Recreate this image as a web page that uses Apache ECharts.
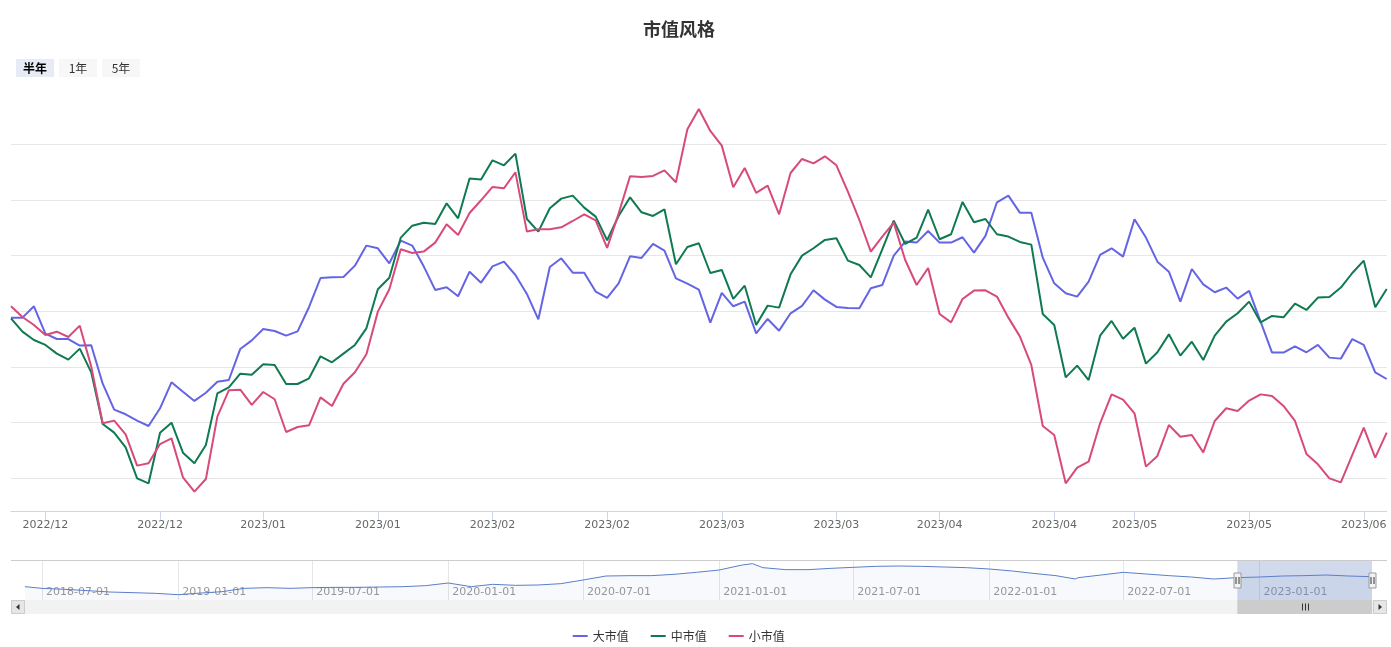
<!DOCTYPE html>
<html><head><meta charset="utf-8">
<script src="https://cdn.jsdelivr.net/npm/echarts@6/dist/echarts.min.js"></script>
<style>html,body{margin:0;padding:0;background:#fff}#c{width:1391px;height:647px}</style>
</head><body><div id="c"></div>
<script>
// ---------- data ----------
const dates = [
'2022-12-02','2022-12-05','2022-12-06','2022-12-07','2022-12-08','2022-12-09','2022-12-12','2022-12-13','2022-12-14','2022-12-15',
'2022-12-16','2022-12-19','2022-12-20','2022-12-21','2022-12-22','2022-12-23','2022-12-26','2022-12-27','2022-12-28','2022-12-29',
'2022-12-30','2023-01-03','2023-01-04','2023-01-05','2023-01-06','2023-01-09','2023-01-10','2023-01-11','2023-01-12','2023-01-13',
'2023-01-16','2023-01-17','2023-01-18','2023-01-19','2023-01-20','2023-01-30','2023-01-31','2023-02-01','2023-02-02','2023-02-03',
'2023-02-06','2023-02-07','2023-02-08','2023-02-09','2023-02-10','2023-02-13','2023-02-14','2023-02-15','2023-02-16','2023-02-17',
'2023-02-20','2023-02-21','2023-02-22','2023-02-23','2023-02-24','2023-02-27','2023-02-28','2023-03-01','2023-03-02','2023-03-03',
'2023-03-06','2023-03-07','2023-03-08','2023-03-09','2023-03-10','2023-03-13','2023-03-14','2023-03-15','2023-03-16','2023-03-17',
'2023-03-20','2023-03-21','2023-03-22','2023-03-23','2023-03-24','2023-03-27','2023-03-28','2023-03-29','2023-03-30','2023-03-31',
'2023-04-03','2023-04-04','2023-04-06','2023-04-07','2023-04-10','2023-04-11','2023-04-12','2023-04-13','2023-04-14','2023-04-17',
'2023-04-18','2023-04-19','2023-04-20','2023-04-21','2023-04-24','2023-04-25','2023-04-26','2023-04-27','2023-04-28','2023-05-04',
'2023-05-05','2023-05-08','2023-05-09','2023-05-10','2023-05-11','2023-05-12','2023-05-15','2023-05-16','2023-05-17','2023-05-18',
'2023-05-19','2023-05-22','2023-05-23','2023-05-24','2023-05-25','2023-05-26','2023-05-29','2023-05-30','2023-05-31','2023-06-01',
'2023-06-02'];

const bigCap = [
0.9943,0.9943,1.0045,0.9799,0.9751,0.9751,0.9692,0.9695,0.9350,0.9117,
0.9075,0.9018,0.8970,0.9129,0.9362,0.9278,0.9195,0.9269,0.9368,0.9383,
0.9662,0.9739,0.9841,0.9823,0.9781,0.9820,1.0039,1.0299,1.0305,1.0308,
1.0410,1.0590,1.0566,1.0431,1.0635,1.0590,1.0404,1.0192,1.0216,1.0135,
1.0356,1.0257,1.0404,1.0446,1.0326,1.0156,0.9928,1.0398,1.0476,1.0347,
1.0347,1.0177,1.0120,1.0251,1.0494,1.0479,1.0605,1.0545,1.0296,1.0248,
1.0195,0.9898,1.0165,1.0045,1.0087,0.9802,0.9931,0.9826,0.9982,1.0048,
1.0189,1.0105,1.0039,1.0030,1.0027,1.0207,1.0236,1.0500,1.0626,1.0617,
1.0721,1.0617,1.0617,1.0665,1.0527,1.0677,1.0979,1.1039,1.0886,1.0886,
1.0482,1.0251,1.0162,1.0132,1.0266,1.0506,1.0566,1.0491,1.0826,1.0662,
1.0446,1.0356,1.0087,1.0380,1.0242,1.0171,1.0213,1.0114,1.0183,0.9907,
0.9629,0.9629,0.9686,0.9632,0.9698,0.9584,0.9575,0.9751,0.9698,0.9452,
0.9392];

const midCap = [
0.9937,0.9817,0.9742,0.9698,0.9620,0.9566,0.9665,0.9452,0.8988,0.8910,
0.8778,0.8500,0.8455,0.8910,0.9000,0.8730,0.8635,0.8799,0.9263,0.9317,
0.9440,0.9431,0.9524,0.9518,0.9347,0.9347,0.9398,0.9596,0.9542,0.9620,
0.9698,0.9847,1.0198,1.0302,1.0662,1.0769,1.0796,1.0784,1.0970,1.0835,
1.1192,1.1183,1.1356,1.1311,1.1416,1.0829,1.0716,1.0925,1.1012,1.1039,
1.0931,1.0850,1.0638,1.0856,1.1024,1.0889,1.0856,1.0916,1.0422,1.0578,
1.0611,1.0344,1.0371,1.0111,1.0230,0.9877,1.0051,1.0033,1.0332,1.0500,
1.0566,1.0641,1.0656,1.0455,1.0416,1.0305,1.0557,1.0814,1.0605,1.0662,
1.0913,1.0647,1.0692,1.0982,1.0799,1.0829,1.0692,1.0671,1.0623,1.0599,
0.9976,0.9877,0.9407,0.9512,0.9383,0.9781,0.9913,0.9754,0.9853,0.9530,
0.9632,0.9793,0.9602,0.9727,0.9563,0.9781,0.9907,0.9982,1.0087,0.9901,
0.9958,0.9946,1.0069,1.0012,1.0123,1.0129,1.0213,1.0344,1.0455,1.0036,
1.0201];

const smallCap = [
1.0045,0.9949,0.9877,0.9787,0.9817,0.9769,0.9871,0.9503,0.8994,0.9018,
0.8895,0.8614,0.8635,0.8808,0.8859,0.8509,0.8380,0.8494,0.9054,0.9290,
0.9296,0.9159,0.9275,0.9210,0.8916,0.8961,0.8976,0.9227,0.9150,0.9350,
0.9452,0.9614,0.9997,1.0198,1.0557,1.0524,1.0536,1.0617,1.0781,1.0686,
1.0883,1.0997,1.1117,1.1105,1.1248,1.0716,1.0736,1.0736,1.0754,1.0811,
1.0871,1.0817,1.0569,1.0877,1.1213,1.1207,1.1216,1.1266,1.1159,1.1635,
1.1817,1.1620,1.1488,1.1114,1.1287,1.1063,1.1129,1.0871,1.1242,1.1368,
1.1329,1.1392,1.1311,1.1075,1.0820,1.0536,1.0671,1.0796,1.0461,1.0236,
1.0389,0.9976,0.9901,1.0111,1.0186,1.0189,1.0132,0.9943,0.9775,0.9518,
0.8970,0.8889,0.8455,0.8596,0.8650,0.8994,0.9254,0.9207,0.9084,0.8605,
0.8701,0.8979,0.8874,0.8889,0.8733,0.9015,0.9129,0.9105,0.9198,0.9254,
0.9239,0.9150,0.9015,0.8719,0.8626,0.8500,0.8464,0.8710,0.8955,0.8686,
0.8910];

const seriesNames = ['大市值','中市值','小市值'];
const xTickIdx = [3,13,22,32,42,52,62,72,81,91,98,108,118];
const xTickLabels = ['2022/12','2022/12','2023/01','2023/01','2023/02','2023/02','2023/03','2023/03','2023/04','2023/04','2023/05','2023/05','2023/06'];
const rangeButtons = ['半年','1年','5年'];

// navigator (long history, sampled)
const navDates = [
'2018-06-08','2018-07-01','2018-08-01','2018-09-01','2018-10-01','2018-11-01','2018-12-01','2019-01-01','2019-02-01','2019-03-01',
'2019-04-01','2019-05-01','2019-06-01','2019-07-01','2019-08-01','2019-09-01','2019-10-01','2019-11-01','2019-12-01','2020-01-01',
'2020-02-01','2020-03-01','2020-04-01','2020-05-01','2020-06-01','2020-07-01','2020-08-01','2020-09-01','2020-10-01','2020-11-01',
'2020-12-01','2021-01-01','2021-02-01','2021-02-15','2021-03-01','2021-04-01','2021-05-01','2021-06-01','2021-07-01','2021-08-01',
'2021-09-01','2021-10-01','2021-11-01','2021-12-01','2022-01-01','2022-02-01','2022-03-01','2022-04-01','2022-04-27','2022-05-01',
'2022-06-01','2022-07-01','2022-08-01','2022-09-01','2022-10-01','2022-10-31','2022-12-01','2023-01-01','2023-02-01','2023-03-01',
'2023-04-01','2023-05-01','2023-06-02'];
const navValues = [
1.00,0.95,0.92,0.88,0.84,0.82,0.80,0.76,0.81,0.85,
0.95,0.97,0.95,0.97,0.98,0.98,0.99,1.00,1.03,1.11,
1.00,1.07,1.04,1.05,1.09,1.20,1.32,1.33,1.33,1.37,
1.43,1.50,1.65,1.69,1.57,1.51,1.51,1.55,1.58,1.61,
1.62,1.61,1.59,1.57,1.53,1.47,1.40,1.33,1.23,1.27,
1.35,1.43,1.38,1.33,1.29,1.23,1.27,1.29,1.32,1.33,
1.35,1.32,1.30];

// ---------- chart ----------
const colors = ['#6464e4','#0f7a4f','#d84a7b'];
const LAT = "'DejaVu Sans','Noto Sans CJK SC',sans-serif";
const CJK = "'Noto Sans CJK SC','DejaVu Sans',sans-serif";
const tickSet = new Set(xTickIdx);
const labelMap = {}; xTickIdx.forEach((k,i)=>labelMap[k]=xTickLabels[i]);
const pad = n => (n<10?'0':'')+n;
const selStart = dates[0], selEnd = dates[dates.length-1];
const DAY = 86400000;

const chart = echarts.init(document.getElementById('c'), null, {renderer:'canvas'});

const option = {
  animation:false,
  color: colors,
  title:{text:'市值风格', left:638, top:15, textStyle:{fontFamily:CJK,fontSize:18,fontWeight:'bold',color:'#333333'}},
  legend:{data:seriesNames, left:567.7, top:625, icon:'rect', itemWidth:15, itemHeight:2, itemGap:22,
    textStyle:{fontFamily:CJK,fontSize:12,color:'#333333'}},
  grid:[
    {left:11, right:4.3, top:88.6, bottom:113, outerBoundsMode:'none'},
    {left:25, right:19, top:560.5, height:39.5, outerBoundsMode:'none'}
  ],
  xAxis:[
    {type:'category', gridIndex:0, data:dates, boundaryGap:false, offset:-22.3,
     axisLine:{lineStyle:{color:'#ccd6eb',width:1}},
     axisTick:{length:8, interval:(i)=>tickSet.has(i), lineStyle:{color:'#ccd6eb'}},
     axisLabel:{interval:(i)=>tickSet.has(i), formatter:(v,i)=>labelMap[i]||'', color:'#666666', fontSize:11, fontFamily:LAT, margin:8},
     splitLine:{show:false}},
    {type:'time', gridIndex:1, min:navDates[0], max:navDates[navDates.length-1],
     minInterval:150*DAY, maxInterval:200*DAY, splitNumber:10,
     axisLine:{show:false}, axisTick:{show:false},
     axisLabel:{inside:true, align:'left', margin:2, padding:[0,0,0,4], color:'#999999', fontSize:11, fontFamily:LAT,
       showMinLabel:false, showMaxLabel:false,
       formatter:(val)=>{const d=new Date(val);return d.getFullYear()+'-'+pad(d.getMonth()+1)+'-'+pad(d.getDate());}},
     splitLine:{show:true, showMinLine:false, showMaxLine:false, lineStyle:{color:'#e6e6e6'}}}
  ],
  yAxis:[
    {type:'value', gridIndex:0, min:0.8, max:1.2, interval:0.05,
     axisLabel:{show:false}, axisLine:{show:false}, axisTick:{show:false},
     splitLine:{show:true, showMinLine:false, showMaxLine:false, lineStyle:{color:'#e6e6e6'}}},
    {type:'value', gridIndex:1, min:0.6, max:1.785, show:false, splitLine:{show:false}}
  ],
  series:[
    {name:seriesNames[0], type:'line', data:bigCap, symbol:'none', lineStyle:{width:2}, color:colors[0]},
    {name:seriesNames[1], type:'line', data:midCap, symbol:'none', lineStyle:{width:2}, color:colors[1]},
    {name:seriesNames[2], type:'line', data:smallCap, symbol:'none', lineStyle:{width:2}, color:colors[2]},
    {name:'导航', type:'line', xAxisIndex:1, yAxisIndex:1, silent:true, symbol:'none',
     data:navDates.map((d,i)=>[d,navValues[i]]),
     lineStyle:{width:1,color:'#5a7ec8'}, itemStyle:{color:'#5a7ec8'},
     areaStyle:{color:'rgba(51,92,173,0.05)', origin:'start'},
     markArea:{silent:true, itemStyle:{color:'rgba(102,133,194,0.3)'}, data:[[{xAxis:selStart},{xAxis:selEnd}]]}}
  ]
};
chart.setOption(option);

// ---------- navigator furniture (positions from axis) ----------
const px = d => chart.convertToPixel({xAxisIndex:1}, echarts.number.parseDate(d).getTime());
const x0 = px(selStart), x1 = px(selEnd);
const g = [];
rangeButtons.forEach((t,i)=>{
  g.push({type:'rect', shape:{x:16+43*i, y:59, width:38, height:18}, style:{fill:i===0?'#e6ebf5':'#f7f7f7'}});
  g.push({type:'text', style:{text:t, x:16+43*i+19, y:68, align:'center', verticalAlign:'middle', fontSize:12,
    fontWeight:i===0?'bold':'normal', fill:i===0?'#000000':'#333333', fontFamily:CJK}});
});
g.push({type:'line', shape:{x1:11,y1:560.5,x2:1387,y2:560.5}, style:{stroke:'#cccccc',lineWidth:1}, z:10});
g.push({type:'rect', shape:{x:11,y:600,width:1376,height:14}, style:{fill:'#f2f2f2'}});
g.push({type:'rect', shape:{x:11.5,y:600.5,width:13,height:13}, style:{fill:'#e6e6e6',stroke:'#cccccc',lineWidth:1}});
g.push({type:'polygon', shape:{points:[[16,607],[19.5,604],[19.5,610]]}, style:{fill:'#333333'}});
g.push({type:'rect', shape:{x:1373.5,y:600.5,width:13,height:13}, style:{fill:'#e6e6e6',stroke:'#cccccc',lineWidth:1}});
g.push({type:'polygon', shape:{points:[[1382,607],[1378.5,604],[1378.5,610]]}, style:{fill:'#333333'}});
g.push({type:'rect', shape:{x:x0,y:600,width:x1-x0,height:14}, style:{fill:'#cccccc'}});
const cx = Math.round((x0+x1)/2)+0.5;
[-3,0,3].forEach(o=>g.push({type:'line', shape:{x1:cx+o,y1:603.5,x2:cx+o,y2:610.5}, style:{stroke:'#333333',lineWidth:1}}));
[x0,x1].forEach(x=>{
  const hx = Math.round(x)+0.5;
  g.push({type:'rect', shape:{x:hx-3.5,y:573,width:7,height:15}, style:{fill:'#f2f2f2',stroke:'#999999',lineWidth:1}, z:20});
  g.push({type:'line', shape:{x1:hx-1.5,y1:577,x2:hx-1.5,y2:584}, style:{stroke:'#333333',lineWidth:1}, z:21});
  g.push({type:'line', shape:{x1:hx+1.5,y1:577,x2:hx+1.5,y2:584}, style:{stroke:'#333333',lineWidth:1}, z:21});
});
chart.setOption({graphic:g});
</script>
</body></html>
